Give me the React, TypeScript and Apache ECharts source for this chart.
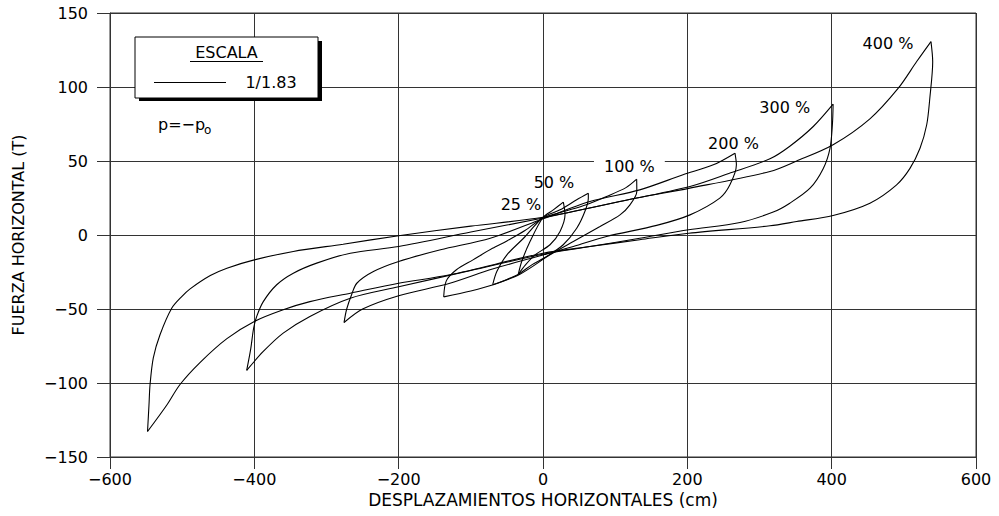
import React, { useEffect, useRef } from "react";
import * as echarts from "echarts";

// Axis ranges / ticks
const X_MIN = -600, X_MAX = 600, X_STEP = 200;
const Y_MIN = -150, Y_MAX = 150, Y_STEP = 50;

// Hysteresis loops: upper branch (from negative peak to positive peak) and lower branch (back)
const up25 = [[-34.2, -26.5], [-29.5, -17.9], [-18, -4.4], [0, 11.8], [14.3, 17], [28.2, 22.2]];
const low25 = [[28.2, 22.2], [30.5, 13.6], [23.6, 2.4], [9.7, -6.6], [-11, -13.4], [-24, -20], [-34.2, -26.5]];

const up50 = [[-69.7, -33.6], [-64, -24.7], [-50, -13.4], [-27, -2.2], [0, 11.8], [23.6, 17], [46.7, 23.8], [62.8, 28.2]];
const low50 = [[62.8, 28.2], [62.8, 24.9], [58, 15.9], [46.7, 4.6], [28, -6.6], [5, -14.5], [-15, -20], [-34.2, -26.5], [-50, -30], [-69.7, -33.6]];

const up100 = [[-137.6, -41.8], [-134, -31], [-120, -23.5], [-97, -16.8], [-70, -9], [-50, -4], [-25, 3], [0, 11.5], [30, 16], [60, 20.5], [88, 26], [115, 32], [129.8, 37.7]];
const low100 = [[129.8, 37.7], [130, 29.4], [120.5, 20.4], [106.7, 13.6], [79, 5.7], [42, -4.4], [9.7, -13.4], [-32, -26.5], [-69, -33.6], [-100, -37.8], [-137.6, -41.8]];

const up200 = [[-275.7, -59.1], [-272, -50], [-265, -40], [-258, -32.6], [-235, -24.7], [-200, -17.9], [-142, -10], [-73, -2.2], [0, 11], [65, 22.6], [134, 30.5], [194, 40.7], [236, 47.4], [266, 55.3]];
const low200 = [[266, 55.3], [268, 47.4], [259, 33.9], [245, 24.9], [203.7, 13.6], [157.5, 6.5], [88, -1], [42, -7.8], [0, -13.5], [-70, -23], [-129, -32.6], [-200, -41], [-250, -50], [-275.7, -59.1]];

const up300 = [[-410.6, -91.5], [-405, -77], [-401, -63], [-396.7, -55], [-387.6, -45], [-369, -33.6], [-346, -25.8], [-313.6, -19], [-267, -12.3], [-200, -7.8], [-100, 2], [0, 11.5], [100, 22], [203.7, 32.8], [260, 42], [314.5, 51.5], [342, 60], [374.5, 73.3], [402, 88.4]];
const low300 = [[402, 88.4], [401, 74.5], [397.7, 58.6], [388.4, 45], [370, 31.6], [342, 21.5], [319, 15.5], [273, 8.5], [202, 3.5], [134, -2.2], [65, -7.8], [0, -13], [-100, -24], [-200, -35], [-267, -42.7], [-323, -55], [-360, -66.3], [-387.6, -78.7], [-410.6, -91.5]];

const up400 = [[-548, -132.8], [-546, -115], [-544.5, -101], [-540, -83], [-530.7, -67.4], [-514.5, -49.5], [-500.6, -41.6], [-489, -36.4], [-461, -27.4], [-438, -22.4], [-400, -16.8], [-346, -11.1], [-277, -6.2], [-200, -0.5], [-100, 6], [0, 12], [130, 25], [202, 31.5], [314.5, 42.9], [351.5, 50], [402, 61], [453, 78.5], [492.3, 99.2], [517.8, 117.2], [537.6, 130.7]];
const low400 = [[537.6, 130.7], [540, 117], [536, 92.4], [531.7, 74.5], [522.4, 58.6], [508.5, 45], [490, 33.9], [453, 21.5], [402, 13.2], [351.5, 9.1], [314.5, 6.2], [202, 1.2], [134, -3.2], [65, -7.8], [0, -12.3], [-129, -26.9], [-200, -32.6], [-267, -39.3], [-323, -45], [-360, -50.5], [-400, -58.4], [-438, -70], [-475, -86], [-503, -101], [-521, -114.7], [-548, -132.8]];

const branches = [up25, low25, up50, low50, up100, low100, up200, low200, up300, low300, up400, low400];

// Amplitude labels and their anchor positions (data units)
const loopLabels = ["400 %", "300 %", "200 %", "100 %", "50 %", "25 %"];
const loopLabelPos = [[478, 129.6], [335, 86], [264, 62], [119.7, 46.3], [15.2, 35.7], [-30.5, 20.4]];

const xTitle = "DESPLAZAMIENTOS HORIZONTALES (cm)";
const yTitle = "FUERZA HORIZONTAL (T)";
const scaleTitle = "ESCALA";
const scaleValue = "1/1.83";

const FONT = "DejaVu Sans";
const INK = "#000";
const GRIDC = "#333";

const minus = (v: number) => String(v).replace("-", "\u2212");

export default function App() {
  const ref = useRef<HTMLDivElement>(null);
  useEffect(() => {
    if (!ref.current) return;
    const chart = echarts.init(ref.current, undefined, { renderer: "svg" });
    const lineSeries = branches.map((d) => ({
      type: "line",
      data: d,
      showSymbol: false,
      symbol: "none",
      smooth: 0.3,
      lineStyle: { color: INK, width: 1.1 },
      z: 3,
    }));
    const labelSeries = {
      type: "scatter",
      symbolSize: 0,
      z: 5,
      itemStyle: { opacity: 1, color: INK },
      data: loopLabels.map((n, i) => ({
        name: n,
        value: loopLabelPos[i],
        label: n === "100 %" ? { backgroundColor: "#fff", padding: [2, 10] } : undefined,
      })),
      label: {
        show: true,
        position: "inside",
        formatter: (p: any) => p.name,
        color: INK,
        opacity: 1,
        textBorderWidth: 0,
        fontSize: 16,
        fontFamily: FONT,
      },
      silent: true,
    };
    chart.setOption({
      animation: false,
      backgroundColor: "#fff",
      grid: { left: 110, top: 13, width: 866, height: 444, show: true, borderColor: GRIDC, borderWidth: 1 },
      xAxis: {
        type: "value",
        min: X_MIN,
        max: X_MAX,
        interval: X_STEP,
        axisLine: { show: true, onZero: false, lineStyle: { color: GRIDC } },
        axisTick: { show: true, length: 12, lineStyle: { color: GRIDC } },
        splitLine: { show: true, lineStyle: { color: GRIDC, width: 1 } },
        axisLabel: { color: INK, fontSize: 16, fontFamily: FONT, margin: 14, formatter: (v: number) => minus(v) },
        name: xTitle,
        nameLocation: "middle",
        nameGap: 34,
        nameTextStyle: { color: INK, fontSize: 17, fontFamily: FONT },
      },
      yAxis: {
        type: "value",
        min: Y_MIN,
        max: Y_MAX,
        interval: Y_STEP,
        axisLine: { show: true, onZero: false, lineStyle: { color: GRIDC } },
        axisTick: { show: true, length: 13, lineStyle: { color: GRIDC } },
        splitLine: { show: true, lineStyle: { color: GRIDC, width: 1 } },
        axisLabel: { color: INK, fontSize: 16, fontFamily: FONT, margin: 22, formatter: (v: number) => minus(v) },
        name: yTitle,
        nameLocation: "middle",
        nameGap: 84,
        nameRotate: 90,
        nameTextStyle: { color: INK, fontSize: 16, fontFamily: FONT },
      },
      graphic: [
        { type: "rect", z: 100, shape: { x: 139, y: 41, width: 183, height: 60 }, style: { fill: "#000" } },
        { type: "rect", z: 101, shape: { x: 135, y: 37, width: 183, height: 61 }, style: { fill: "#fff", stroke: "#000", lineWidth: 1 } },
        { type: "text", z: 102, x: 226.5, y: 52, style: { text: scaleTitle, fill: INK, font: `16px "${FONT}"`, align: "center", verticalAlign: "middle" } },
        { type: "line", z: 102, shape: { x1: 190, y1: 61.5, x2: 263, y2: 61.5 }, style: { stroke: "#000", lineWidth: 1 } },
        { type: "line", z: 102, shape: { x1: 154, y1: 82.5, x2: 226, y2: 82.5 }, style: { stroke: "#000", lineWidth: 1 } },
        { type: "text", z: 102, x: 271, y: 82, style: { text: scaleValue, fill: INK, font: `16px "${FONT}"`, align: "center", verticalAlign: "middle" } },
        { type: "text", z: 102, x: 158, y: 124, style: { text: "p=\u2212p", fill: INK, font: `16px "${FONT}"`, align: "left", verticalAlign: "middle" } },
        { type: "text", z: 102, x: 204, y: 130, style: { text: "o", fill: INK, font: `12px "${FONT}"`, align: "left", verticalAlign: "middle" } },
      ],
      series: [...lineSeries, labelSeries],
    });
    return () => chart.dispose();
  }, []);
  return <div ref={ref} style={{ position: "fixed", left: 0, top: 0, width: 999, height: 516 }} />;
}
